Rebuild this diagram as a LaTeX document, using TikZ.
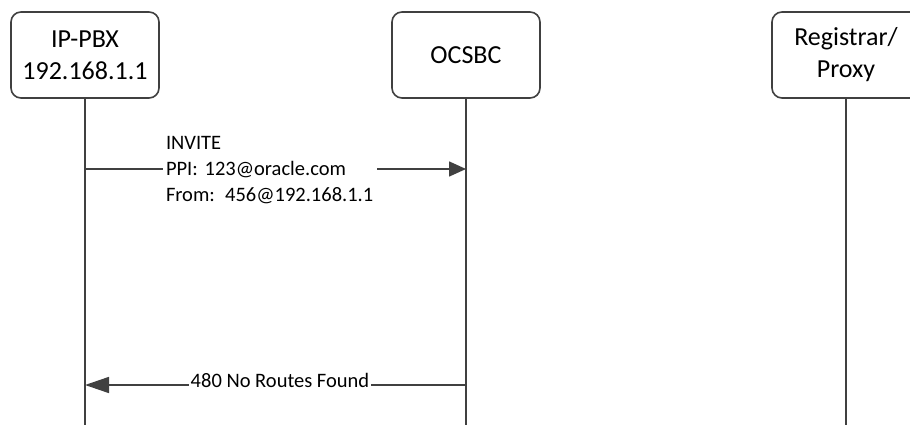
\documentclass[tikz,border=0pt]{standalone}
\usepackage{fontspec}
\setmainfont{Carlito}
\usetikzlibrary{arrows.meta}
\definecolor{lifegray}{HTML}{404040}

\begin{document}
\begin{tikzpicture}[x=1pt, y=-1pt,
		entity/.style={draw=lifegray, line width=1.6pt, rounded corners=10pt, fill=white,
			minimum width=148pt, minimum height=86pt, align=center, font=\fontsize{26}{32}\selectfont},
		lifeline/.style={draw=lifegray, line width=1.6pt},
		msg/.style={draw=lifegray, line width=1.6pt},
		msglabel/.style={fill=white, inner sep=2pt, font=\fontsize{20.5}{26}\selectfont}]
	\clip (0,0) rectangle (910,425);
	\node[entity] (pbx) at (85,55) {IP-PBX\\192.168.1.1};
	\node[entity] (sbc) at (466,55) {OCSBC};
	\node[entity] (reg) at (846,55) {Registrar/\\Proxy};
	\coordinate (pbx-end) at (85,425);
	\coordinate (sbc-end) at (466,425);
	\coordinate (reg-end) at (846,425);
	\draw[lifeline] (pbx) -- (pbx-end);
	\draw[lifeline] (sbc) -- (sbc-end);
	\draw[lifeline] (reg) -- (reg-end);
	\coordinate (pbx-invite) at (85,169);
	\coordinate (sbc-invite) at (466,169);
	\coordinate (sbc-reject) at (466,385);
	\coordinate (pbx-reject) at (85,385);
	\draw[msg, -{Triangle[length=17pt, width=15pt]}] (pbx-invite) -- (sbc-invite);
	\draw[msg, -{Triangle[length=24pt, width=16pt]}] (sbc-reject) -- (pbx-reject);
	\node[msglabel, inner xsep=3pt, inner ysep=5pt, text width=208pt, align=left] (invite) at (270,170)
		{INVITE\\PPI: 123@oracle.com\\From: 456@192.168.1.1};
	\node[msglabel] (reject) at (280,380) {480 No Routes Found};
\end{tikzpicture}
\end{document}
